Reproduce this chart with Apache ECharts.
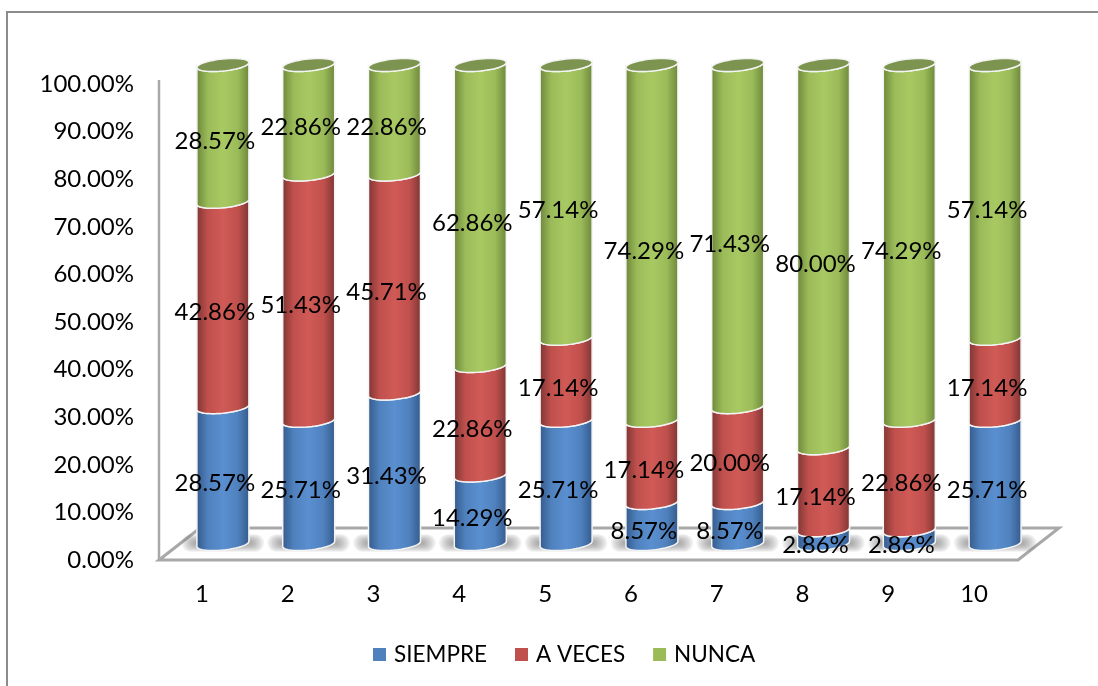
<!DOCTYPE html>
<html><head><meta charset="utf-8">
<style>html,body{margin:0;padding:0;background:#fff}#c{width:1098px;height:686px}</style>
<script src="https://cdn.jsdelivr.net/npm/echarts@6/dist/echarts.min.js"></script>
</head><body><div id="c"></div>
<script>
const categories = ['1','2','3','4','5','6','7','8','9','10'];
const siempre = [28.57,25.71,31.43,14.29,25.71,8.57,8.57,2.86,2.86,25.71];
const aVeces  = [42.86,51.43,45.71,22.86,17.14,17.14,20.00,17.14,22.86,17.14];
const nunca   = [28.57,22.86,22.86,62.86,57.14,74.29,71.43,80.00,74.29,57.14];
const FONT = 'Lato';
const chart = echarts.init(document.getElementById('c'), null, {renderer:'canvas'});

function grad(dark, mid, light){
  return {type:'linear',x:0,y:0,x2:1,y2:0,colorStops:[
    {offset:0,color:dark},{offset:0.22,color:mid},{offset:0.5,color:light},{offset:0.78,color:mid},{offset:1,color:dark}]};
}
const RX = 26, RY = 6, TILT = 2.5;
function arc(cx, cy, from, to, n){
  const pts = [];
  for(let k=0;k<=n;k++){
    const t = from + (to-from)*k/n;
    pts.push([cx + RX*Math.cos(t), cy + RY*Math.sin(t) - TILT*Math.cos(t)]);
  }
  return pts;
}
function makeSeries(name, vals, below, fill, legendColor, isTop){
  return {
    name, type:'custom', xAxisIndex:1, yAxisIndex:1, coordinateSystem:'cartesian2d',
    itemStyle:{color:legendColor}, z:3,
    data: vals.map((v,i)=>[i, below[i], below[i]+v, v]),
    encode:{x:0,y:[1,2]},
    renderItem(params, api){
      const p0 = api.coord([api.value(0), api.value(1)]);
      const p1 = api.coord([api.value(0), api.value(2)]);
      const cx = p0[0], yb = p0[1], yt = p1[1];
      const body = arc(cx, yt, 0, Math.PI, 24).reverse().concat(arc(cx, yb, 0, Math.PI, 24));
      const children = [{
        type:'polygon', shape:{points:body},
        style:{fill, stroke:'#f4f4f4', lineWidth:1.5}
      }];
      if(isTop){
        children.push({type:'polygon', shape:{points:arc(cx, yt, 0, Math.PI*2, 48)},
          style:{fill:'#7d9450', stroke:'#f4f4f4', lineWidth:1.5}});
      }
      return {type:'group', children};
    }
  };
}
function labelSeries(name, vals, below){
  return {
    name, type:'custom', xAxisIndex:1, yAxisIndex:1, z:5, silent:true,
    data: vals.map((v,i)=>[i, below[i]+v/2, v]),
    renderItem(params, api){
      const p = api.coord([api.value(0), api.value(1)]);
      return {type:'text', style:{
        text: api.value(2).toFixed(2)+'%', x:p[0]-8, y:p[1]+8,
        align:'center', verticalAlign:'middle', font:'24px '+FONT, fill:'#000'}};
    }
  };
}
const base0 = categories.map(()=>0);
const base2 = siempre.map((v,i)=>v+aVeces[i]);
chart.setOption({
  animation:false,
  backgroundColor:'#fff',
  textStyle:{fontFamily:FONT},
  legend:{
    data:['SIEMPRE','A VECES','NUNCA'], left:373, top:643, padding:0, icon:'rect',
    itemWidth:13, itemHeight:13, itemGap:28,
    textStyle:{fontSize:22.5, fontFamily:FONT, color:'#000', padding:[0,0,0,3]}
  },
  grid:[
    {left:159, top:84, width:858, height:476},
    {left:180, top:65, width:858, height:479}
  ],
  xAxis:[
    {gridIndex:0,type:'category',data:categories,boundaryGap:true,
     axisLine:{show:false},axisTick:{show:false},
     axisLabel:{fontSize:24,fontFamily:FONT,color:'#000',margin:22}},
    {gridIndex:1,type:'category',data:categories,show:false}
  ],
  yAxis:[
    {gridIndex:0,type:'value',min:0,max:100,interval:10,
     axisLine:{show:false},axisTick:{show:false},splitLine:{show:false},
     axisLabel:{fontSize:24,fontFamily:FONT,color:'#000',margin:25,
       formatter:v=>v.toFixed(2)+'%'}},
    {gridIndex:1,type:'value',min:0,max:100,show:false}
  ],
  graphic:[
    {type:'rect',z:-1,shape:{x:7,y:12,width:1110,height:700},
     style:{fill:'#fff',stroke:'#8c8c8c',lineWidth:2}},
    {type:'polygon',z:0,shape:{points:[[159,560],[200,528],[1059,528],[1018,560]]},
     style:{fill:'#fff',stroke:'#a8a8a8',lineWidth:3}},
    {type:'line',z:0,shape:{x1:159,y1:80,x2:159,y2:560},
     style:{stroke:'#a8a8a8',lineWidth:2.5}}
  ],
  series:[
    {name:'floorShadow',type:'custom',xAxisIndex:1,yAxisIndex:1,z:2,silent:true,
     data:categories.map((c,i)=>[i,0]),
     renderItem(params,api){
       const p = api.coord([api.value(0),0]);
       const children = [];
       for(let k=1;k<=8;k++){
         const hw = 26+k*1.9, hh = 1.1*k;
         children.push({type:'rect',
           shape:{x:p[0]-hw,y:p[1]-1-hh,width:hw*2,height:hh*2,r:hh},
           style:{fill:'rgba(110,110,110,0.1)'}});
       }
       return {type:'group',children};
     }},
    makeSeries('SIEMPRE',siempre,base0,grad('#34598a','#4f81bd','#5a8fd0'),'#4f81bd',false),
    makeSeries('A VECES',aVeces,siempre,grad('#7c3533','#c0504d','#d05a56'),'#c0504d',false),
    makeSeries('NUNCA',nunca,base2,grad('#6b8539','#9bbb59','#a8c962'),'#9bbb59',true),
    labelSeries('SIEMPRE label',siempre,base0),
    labelSeries('A VECES label',aVeces,siempre),
    labelSeries('NUNCA label',nunca,base2)
  ]
});
</script></body></html>
